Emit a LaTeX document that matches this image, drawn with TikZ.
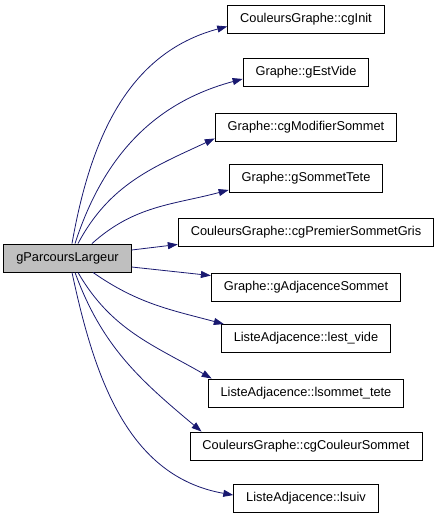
\documentclass[tikz,border=0pt]{standalone}
\usepackage{fontspec}
\setmainfont{Liberation Sans}
\usepackage{xcolor}
\usetikzlibrary{arrows.meta,positioning}
\definecolor{edgeblue}{HTML}{191970}
\definecolor{callgray}{HTML}{BFBFBF}

\begin{document}
\begin{tikzpicture}[x=1pt,y=-1pt,
		fn/.style={draw=black, line width=0.9pt, rectangle, minimum height=28pt, inner xsep=12.5pt, inner ysep=0pt, font=\fontsize{12.8}{14}\selectfont},
		callee/.style={fn, fill=white},
		caller/.style={fn, fill=callgray},
		calls/.style={draw=edgeblue, line width=0.8pt, -{Triangle[length=10pt,width=7pt,fill=edgeblue]}}]
		\useasboundingbox (0,0) rectangle (440,520);

		\node[caller] (main) at (67.5,258) {gParcoursLargeur};

		\node[callee] (f1) at (306,19) {CouleursGraphe::cgInit};
		\node[callee] (f2) at (306,72.5) {Graphe::gEstVide};
		\node[callee] (f3) at (306,127) {Graphe::cgModifierSommet};
		\node[callee] (f4) at (306,178.5) {Graphe::gSommetTete};
		\node[callee] (f5) at (306,232) {CouleursGraphe::cgPremierSommetGris};
		\node[callee] (f6) at (306,287) {Graphe::gAdjacenceSommet};
		\node[callee] (f7) at (306,338.5) {ListeAdjacence::lest\_vide};
		\node[callee] (f8) at (306,393) {ListeAdjacence::lsommet\_tete};
		\node[callee] (f9) at (306,446) {CouleursGraphe::cgCouleurSommet};
		\node[callee] (f10) at (306,498.5) {ListeAdjacence::lsuiv};

		% calls above the caller
		\draw[calls] ([xshift=4.5pt]main.north) to[out=80, in=195] ([yshift=7pt]f1.south west);
		\draw[calls] ([xshift=7.5pt]main.north) to[out=72, in=195] ([yshift=8pt]f2.south west);
		\draw[calls] ([xshift=10.5pt]main.north) to[out=62, in=205] ([yshift=3pt]f3.south west);
		\draw[calls] ([xshift=24.5pt]main.north) to[out=42, in=195] ([yshift=3pt]f4.south west);
		\draw[calls] ([yshift=8pt]main.east) -- ([yshift=2pt]f5.south west);
		% calls below the caller
		\draw[calls] ([yshift=-9pt]main.east) -- ([yshift=-3pt]f6.north west);
		\draw[calls] ([xshift=25.5pt]main.south) to[out=-35, in=165] ([xshift=3pt]f7.north west);
		\draw[calls] ([xshift=10.5pt]main.south) to[out=-60, in=150] ([xshift=4pt]f8.north west);
		\draw[calls] ([xshift=7.5pt]main.south) to[out=-70, in=140] ([xshift=12pt]f9.north west);
		\draw[calls] ([xshift=4.5pt]main.south) to[out=-78, in=170] ([yshift=-11pt]f10.north west);
	\end{tikzpicture}
\end{document}
